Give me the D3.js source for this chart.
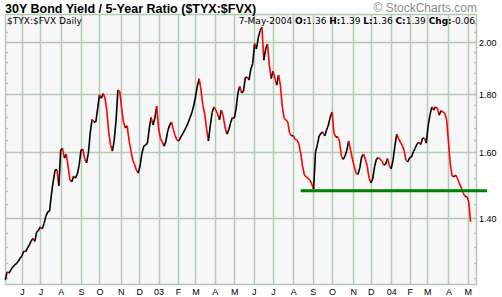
<!DOCTYPE html>
<html>
<head>
<meta charset="utf-8">
<script src="https://cdn.jsdelivr.net/npm/d3@7/dist/d3.min.js"></script>
<style>
  html, body { margin: 0; padding: 0; background: #fff; }
  svg { display: block; }
</style>
</head>
<body>
<svg id="chart" width="502" height="297"></svg>
<script>
// Ratio closes, one every second trading day, 7-May-2002 .. 7-May-2004
const closes = [
  1.236, 1.256, 1.253, 1.261, 1.268, 1.273, 1.277, 1.283, 1.291, 1.297,
  1.310, 1.308, 1.318, 1.326, 1.337, 1.344, 1.336, 1.362, 1.366, 1.376,
  1.370, 1.385, 1.406, 1.418, 1.421, 1.470, 1.510, 1.544, 1.544, 1.495,
  1.607, 1.613, 1.581, 1.594, 1.556, 1.513, 1.507, 1.525, 1.518, 1.531,
  1.559, 1.607, 1.610, 1.578, 1.566, 1.597, 1.664, 1.710, 1.701, 1.701,
  1.747, 1.797, 1.785, 1.802, 1.786, 1.740, 1.667, 1.624, 1.604, 1.640,
  1.708, 1.815, 1.809, 1.750, 1.701, 1.681, 1.688, 1.640, 1.607, 1.575,
  1.561, 1.544, 1.534, 1.556, 1.597, 1.620, 1.624, 1.630, 1.681, 1.717,
  1.691, 1.714, 1.757, 1.681, 1.646, 1.633, 1.620, 1.637, 1.671, 1.691,
  1.701, 1.676, 1.654, 1.640, 1.637, 1.650, 1.660, 1.672, 1.684, 1.698,
  1.716, 1.732, 1.757, 1.790, 1.829, 1.857, 1.815, 1.759, 1.729, 1.679,
  1.637, 1.688, 1.734, 1.754, 1.743, 1.729, 1.709, 1.743, 1.723, 1.684,
  1.660, 1.674, 1.698, 1.717, 1.714, 1.747, 1.804, 1.829, 1.804, 1.811,
  1.861, 1.863, 1.852, 1.894, 1.915, 1.994, 1.972, 2.016, 2.047, 2.062,
  1.928, 1.972, 1.992, 1.909, 1.858, 1.886, 1.860, 1.833, 1.871, 1.833,
  1.757, 1.714, 1.708, 1.701, 1.663, 1.654, 1.655, 1.642, 1.640, 1.627,
  1.597, 1.556, 1.528, 1.522, 1.517, 1.512, 1.501, 1.485, 1.601, 1.624,
  1.654, 1.663, 1.667, 1.654, 1.674, 1.691, 1.718, 1.736, 1.664, 1.650,
  1.651, 1.637, 1.588, 1.577, 1.588, 1.607, 1.637, 1.607, 1.578, 1.555,
  1.533, 1.530, 1.550, 1.585, 1.594, 1.578, 1.556, 1.519, 1.504, 1.516,
  1.554, 1.578, 1.583, 1.578, 1.572, 1.559, 1.562, 1.580, 1.558, 1.547,
  1.575, 1.620, 1.660, 1.645, 1.633, 1.622, 1.607, 1.575, 1.569, 1.583,
  1.585, 1.602, 1.613, 1.627, 1.633, 1.625, 1.646, 1.647, 1.630, 1.688,
  1.725, 1.754, 1.743, 1.754, 1.749, 1.725, 1.741, 1.736, 1.732, 1.711,
  1.637, 1.562, 1.525, 1.523, 1.528, 1.516, 1.501, 1.489, 1.474, 1.463,
  1.463, 1.447, 1.390
];
const SAMPLE_STEP = 2;

// Trading calendar
const firstDay = '2002-05-07';
const lastDay = '2004-05-07';
const holidays = [
  '2002-05-27', '2002-07-04', '2002-09-02', '2002-11-28', '2002-12-25',
  '2003-01-01', '2003-01-20', '2003-02-17', '2003-04-18', '2003-05-26',
  '2003-07-04', '2003-09-01', '2003-11-27', '2003-12-25', '2004-01-01',
  '2004-01-19', '2004-02-16', '2004-04-09'
];
const monthLetters = ['J', 'F', 'M', 'A', 'M', 'J', 'J', 'A', 'S', 'O', 'N', 'D'];

// Price axis
const minorStep = 0.04;
const majorLevels = [1.40, 1.60, 1.80, 2.00];
const majorLabels = ['1.40', '1.60', '1.80', '2.00'];

// Support line drawn on the chart
const supportLevel = 1.48;
const supportFrom = '2003-08-13';

// Header texts
const title = '30Y Bond Yield / 5-Year Ratio ($TYX:$FVX)';
const credit = '\u00a9 StockCharts.com';
const symbolLabel = '$TYX:$FVX Daily';
const lastDate = '7-May-2004';
const quoteKeys = ['O:', 'H:', 'L:', 'C:', 'Chg:'];
const quoteValues = ['1.36', '1.39', '1.36', '1.39', '-0.06'];

// Layout
const PLOT = { left: 5, top: 14, right: 477, bottom: 285 };
const GRID_COLOR = '#b3c9b3';
const AXIS_FONT = '"Liberation Sans", Arial, sans-serif';
const HEAD_FONT = '"DejaVu Sans", Verdana, sans-serif';

const parse = d3.utcParse('%Y-%m-%d');
const fmt = d3.utcFormat('%Y-%m-%d');
const holidaySet = new Set(holidays);

const days = d3.utcDay
  .range(parse(firstDay), d3.utcDay.offset(parse(lastDay), 1))
  .filter(d => d.getUTCDay() % 6 !== 0 && !holidaySet.has(fmt(d)));

const monthStarts = days
  .map((d, i) => ({ d, i }))
  .filter(({ d, i }) => i > 0 && d.getUTCMonth() !== days[i - 1].getUTCMonth());

const x = d3.scaleLinear()
  .domain([0, days.length - 1])
  .range([PLOT.left + 0.3, PLOT.right - 5.5]);

const y = d3.scaleLog()
  .domain([1.223, 2.117])
  .range([PLOT.bottom, PLOT.top]);

const svg = d3.select('#chart');

// Plot background
svg.append('rect')
  .attr('x', PLOT.left)
  .attr('y', PLOT.top)
  .attr('width', PLOT.right - PLOT.left)
  .attr('height', PLOT.bottom - PLOT.top)
  .attr('fill', '#f7f7f7');

// Grid
const grid = svg.append('g')
  .attr('stroke', GRID_COLOR)
  .attr('stroke-width', 1.5);

grid.selectAll('line.v')
  .data(monthStarts)
  .join('line')
    .attr('class', 'v')
    .attr('x1', m => Math.round(x(m.i)) + 0.5)
    .attr('x2', m => Math.round(x(m.i)) + 0.5)
    .attr('y1', PLOT.top)
    .attr('y2', PLOT.bottom);

grid.selectAll('line.h')
  .data(majorLevels)
  .join('line')
    .attr('class', 'h')
    .attr('x1', PLOT.left)
    .attr('x2', PLOT.right)
    .attr('y1', v => Math.round(y(v)) + 0.5)
    .attr('y2', v => Math.round(y(v)) + 0.5);

// Minor ticks, both sides, pointing in
const minorTicks = d3.range(31, 53).map(n => n * minorStep);
grid.selectAll('line.tl')
  .data(minorTicks)
  .join('line')
    .attr('x1', PLOT.left)
    .attr('x2', PLOT.left + 3)
    .attr('y1', v => Math.round(y(v)) + 0.5)
    .attr('y2', v => Math.round(y(v)) + 0.5);
grid.selectAll('line.tr')
  .data(minorTicks)
  .join('line')
    .attr('x1', PLOT.right - 3)
    .attr('x2', PLOT.right)
    .attr('y1', v => Math.round(y(v)) + 0.5)
    .attr('y2', v => Math.round(y(v)) + 0.5);

// Frame
svg.append('rect')
  .attr('x', PLOT.left + 0.5)
  .attr('y', PLOT.top + 0.5)
  .attr('width', PLOT.right - PLOT.left - 1)
  .attr('height', PLOT.bottom - PLOT.top - 1)
  .attr('fill', 'none')
  .attr('stroke', GRID_COLOR)
  .attr('stroke-width', 1.5);

// Price segments: black when up, red when down
svg.append('g')
  .attr('stroke-width', 1.6)
  .selectAll('line')
  .data(d3.range(1, closes.length))
  .join('line')
    .attr('x1', k => x((k - 1) * SAMPLE_STEP))
    .attr('y1', k => y(closes[k - 1]))
    .attr('x2', k => x(k * SAMPLE_STEP))
    .attr('y2', k => y(closes[k]))
    .attr('stroke', k => (closes[k] >= closes[k - 1] ? '#000' : '#f00'));

// Support line
const supportIndex = days.findIndex(d => fmt(d) === supportFrom);
svg.append('line')
  .attr('x1', x(supportIndex))
  .attr('x2', PLOT.right + 10)
  .attr('y1', y(supportLevel))
  .attr('y2', y(supportLevel))
  .attr('stroke', '#008000')
  .attr('stroke-width', 3);

// Right price labels
svg.append('g')
  .attr('font-family', AXIS_FONT)
  .attr('font-size', 9)
  .attr('fill', '#000')
  .selectAll('text')
  .data(majorLevels)
  .join('text')
    .attr('x', PLOT.right + 2)
    .attr('y', v => y(v) + 3.5)
    .text((v, i) => majorLabels[i]);

// Month labels
svg.append('g')
  .attr('font-family', AXIS_FONT)
  .attr('font-size', 9)
  .attr('text-anchor', 'middle')
  .selectAll('text')
  .data(monthStarts)
  .join('text')
    .attr('x', m => x(m.i) + 0.5)
    .attr('y', PLOT.bottom + 9.5)
    .text(m => (m.d.getUTCMonth() === 0
      ? d3.utcFormat('%y')(m.d)
      : monthLetters[m.d.getUTCMonth()]));

// Title and credit
svg.append('text')
  .attr('x', PLOT.left)
  .attr('y', 12.5)
  .attr('font-family', '"Liberation Sans", Arial, sans-serif')
  .attr('font-weight', 'bold')
  .attr('font-size', 12.5)
  .text(title);

svg.append('text')
  .attr('x', PLOT.right)
  .attr('y', 12)
  .attr('text-anchor', 'end')
  .attr('font-family', '"Liberation Sans", Arial, sans-serif')
  .attr('font-size', 12)
  .attr('fill', '#8c8c8c')
  .text(credit);

// Header row inside the plot
svg.append('text')
  .attr('x', PLOT.left + 2)
  .attr('y', 23.5)
  .attr('font-family', HEAD_FONT)
  .attr('font-size', 9)
  .text(symbolLabel);

const quote = svg.append('text')
  .attr('x', PLOT.right - 2)
  .attr('y', 23.5)
  .attr('text-anchor', 'end')
  .attr('font-family', HEAD_FONT)
  .attr('font-size', 9);

quote.append('tspan').text(lastDate + ' ');
quoteKeys.forEach((key, i) => {
  quote.append('tspan').attr('font-weight', 'bold').text(key);
  quote.append('tspan').text(quoteValues[i] + (i < quoteKeys.length - 1 ? ' ' : ''));
});
</script>
</body>
</html>
